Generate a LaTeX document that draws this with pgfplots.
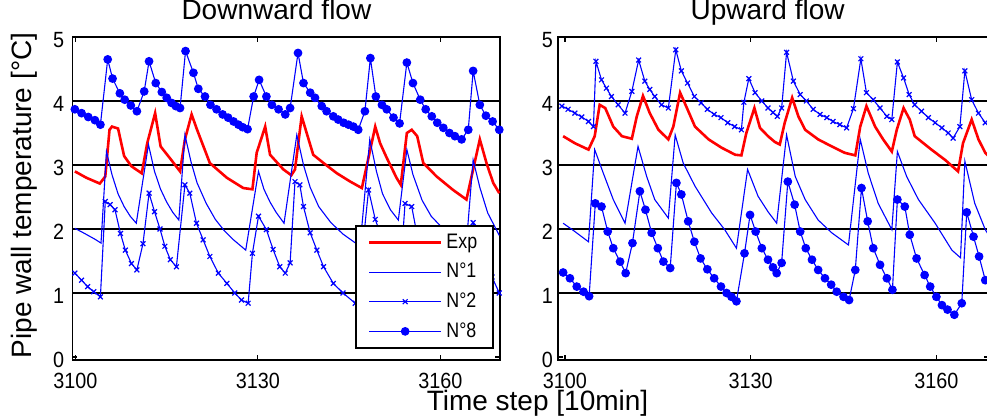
\documentclass[border=0pt]{standalone}
\usepackage{fontspec}
\setmainfont{Liberation Sans}
\newfontfamily\tickfont[FakeStretch=0.9]{Liberation Sans}
\newfontfamily\legfont[FakeStretch=0.85]{Liberation Sans}
\usepackage{pgfplots}
\usepackage{pgfplotstable}
\pgfplotsset{compat=1.18}

% ---------- Downward flow ----------
\pgfplotstableread{
t v
3099.9 2.90
3101.8 2.80
3104.0 2.71
3104.9 2.82
3105.6 3.55
3106.0 3.60
3107.0 3.57
3108.0 3.14
3109.2 2.98
3110.9 2.87
3111.8 3.34
3113.1 3.81
3114.0 3.29
3115.5 3.11
3117.2 2.90
3118.0 3.40
3119.1 3.79
3120.0 3.55
3122.1 3.03
3124.9 2.80
3127.6 2.64
3129.1 2.62
3129.8 3.19
3131.2 3.60
3132.0 3.16
3134.2 2.93
3135.5 2.84
3136.1 2.93
3137.2 3.76
3139.1 3.16
3140.8 3.03
3143.0 2.87
3145.2 2.74
3147.1 2.64
3148.0 3.03
3149.3 3.60
3150.1 3.34
3151.2 3.11
3152.8 2.80
3153.5 2.69
3154.5 3.50
3155.3 3.55
3156.2 3.45
3157.2 3.03
3159.4 2.82
3162.1 2.61
3164.3 2.46
3165.4 2.93
3166.5 3.40
3167.6 3.03
3168.7 2.72
3169.7 2.56
}\downexp

\pgfplotstableread{
t v
3099.9 2.01
3101.5 1.93
3103.2 1.84
3104.2 1.78
3105.1 3.21
3106.0 2.85
3107.0 2.55
3108.0 2.35
3109.0 2.20
3110.0 2.09
3112.0 3.32
3113.0 2.90
3114.0 2.62
3115.0 2.42
3116.0 2.26
3117.0 2.14
3118.0 3.47
3119.0 3.05
3120.0 2.72
3121.5 2.40
3123.0 2.15
3124.5 1.97
3126.0 1.83
3128.0 1.67
3130.1 2.90
3131.0 2.62
3132.0 2.42
3133.0 2.26
3134.3 2.09
3136.4 3.47
3137.5 3.00
3138.6 2.65
3140.0 2.35
3142.0 2.10
3144.0 1.92
3146.8 1.73
3148.4 3.40
3149.5 2.90
3150.5 2.55
3151.8 2.30
3153.1 2.14
3154.5 3.24
3155.5 2.85
3157.0 2.45
3158.5 2.20
3160.5 2.00
3162.5 1.87
3164.3 1.78
3165.4 3.08
3166.5 2.65
3167.8 2.25
3169.7 1.90
}\downone

\pgfplotstableread{
t v
3099.9 1.31
3101.0 1.20
3102.0 1.10
3103.0 1.02
3104.1 0.94
3104.9 2.43
3105.7 2.38
3106.5 2.30
3107.4 1.93
3108.2 1.67
3109.2 1.46
3110.1 1.36
3111.1 1.77
3112.1 2.56
3113.0 2.27
3113.9 2.00
3114.7 1.73
3115.6 1.52
3116.6 1.41
3118.0 2.69
3118.8 2.56
3119.9 2.09
3121.0 1.83
3122.1 1.57
3123.5 1.31
3124.9 1.15
3126.2 1.00
3127.3 0.89
3128.4 0.84
3129.1 1.62
3130.1 2.20
3131.4 1.99
3132.5 1.68
3133.6 1.41
3134.5 1.31
3135.3 1.47
3136.1 2.74
3136.9 2.69
3137.5 2.35
3138.6 1.94
3139.7 1.67
3140.8 1.41
3142.4 1.15
3144.0 1.00
3146.0 0.84
3146.9 1.40
3148.2 2.61
3149.3 2.15
3150.1 1.94
3151.5 1.60
3152.5 1.40
3153.4 1.30
3154.2 2.40
3155.3 2.35
3156.2 1.90
3157.5 1.60
3159.0 1.35
3160.5 1.18
3162.0 1.05
3163.5 0.95
3164.6 0.90
3165.4 2.10
3166.4 1.85
3167.5 1.55
3168.5 1.25
3169.7 1.00
}\downtwo

\pgfplotstableread{
t v
3099.9 3.87
3101.0 3.81
3102.1 3.75
3103.2 3.70
3104.1 3.63
3105.3 4.65
3106.1 4.35
3107.3 4.12
3108.1 4.02
3109.1 3.93
3110.1 3.84
3111.3 4.15
3112.1 4.62
3113.2 4.28
3114.2 4.14
3115.0 4.05
3115.8 3.97
3116.5 3.92
3117.2 3.89
3118.1 4.78
3119.4 4.44
3120.2 4.19
3121.3 4.07
3122.2 3.94
3123.2 3.87
3124.2 3.79
3125.1 3.74
3126.0 3.68
3126.8 3.63
3127.5 3.59
3128.3 3.56
3129.3 4.07
3130.2 4.33
3131.4 4.07
3132.3 3.94
3133.4 3.87
3134.5 3.79
3135.3 3.89
3136.6 4.75
3137.5 4.28
3138.6 4.13
3139.4 4.05
3140.5 3.92
3141.3 3.84
3142.4 3.76
3143.2 3.71
3144.1 3.66
3144.9 3.63
3145.7 3.60
3146.5 3.55
3147.6 3.84
3148.5 4.67
3149.4 4.07
3150.4 3.94
3151.2 3.87
3152.3 3.74
3153.3 3.65
3154.5 4.60
3155.5 4.28
3156.7 4.02
3157.6 3.87
3158.6 3.76
3159.5 3.66
3160.5 3.58
3161.5 3.50
3162.4 3.45
3163.5 3.40
3164.6 3.55
3165.4 4.47
3166.5 3.94
3167.5 3.77
3168.6 3.68
3169.7 3.55
}\downeight

% ---------- Upward flow ----------
\pgfplotstableread{
t v
3099.7 3.45
3101.6 3.34
3103.8 3.24
3104.8 3.45
3105.6 3.94
3106.5 3.89
3107.8 3.60
3109.2 3.45
3110.8 3.41
3111.6 3.76
3112.6 4.08
3113.7 3.81
3115.1 3.55
3116.7 3.40
3117.5 3.60
3118.6 4.13
3119.7 3.89
3121.0 3.60
3123.2 3.40
3125.3 3.27
3127.5 3.16
3128.5 3.15
3129.3 3.50
3130.6 3.89
3131.5 3.58
3132.8 3.45
3133.9 3.36
3134.7 3.32
3135.5 3.66
3136.7 4.05
3137.7 3.76
3138.8 3.55
3140.9 3.40
3143.1 3.29
3145.2 3.19
3146.9 3.15
3147.7 3.60
3148.7 3.92
3150.1 3.60
3151.4 3.40
3152.8 3.21
3153.6 3.55
3154.7 3.89
3155.7 3.71
3156.5 3.45
3159.2 3.24
3161.4 3.08
3163.5 2.90
3164.3 3.34
3165.7 3.71
3166.8 3.40
3167.9 3.19
3168.6 3.12
}\upexp

\pgfplotstableread{
t v
3099.7 2.09
3101.6 1.96
3103.8 1.80
3104.8 3.24
3106.2 2.87
3107.8 2.46
3109.7 2.09
3111.8 3.29
3113.2 2.82
3114.5 2.46
3116.7 2.17
3117.8 3.47
3119.1 3.03
3121.0 2.67
3123.7 2.25
3125.8 1.99
3127.7 1.70
3129.5 2.93
3131.2 2.51
3132.8 2.27
3134.2 2.09
3135.8 3.47
3137.2 2.82
3138.8 2.46
3140.9 2.14
3143.1 1.94
3145.8 1.75
3147.7 3.40
3149.0 2.87
3150.6 2.40
3152.8 1.99
3153.7 3.21
3155.2 2.82
3157.1 2.46
3159.8 2.09
3162.5 1.67
3163.9 1.55
3164.6 3.06
3166.2 2.40
3167.9 1.99
3168.6 1.88
}\upone

\pgfplotstableread{
t v
3099.5 3.92
3100.5 3.87
3101.6 3.81
3102.7 3.75
3103.8 3.68
3104.6 3.60
3105.0 4.62
3105.9 4.33
3106.7 4.20
3107.5 4.07
3108.6 3.94
3109.7 3.81
3110.8 4.15
3111.9 4.64
3112.9 4.31
3113.7 4.18
3114.5 4.07
3115.6 3.94
3116.7 3.89
3117.9 4.80
3118.8 4.47
3119.8 4.28
3120.9 4.07
3122.0 3.97
3123.0 3.87
3124.1 3.79
3125.2 3.74
3126.3 3.66
3127.4 3.60
3128.5 3.55
3128.9 3.98
3129.7 4.35
3130.7 4.13
3131.8 4.00
3132.8 3.89
3133.6 3.82
3134.3 3.76
3135.0 3.89
3135.8 4.76
3136.9 4.31
3138.0 4.10
3139.0 4.00
3140.1 3.87
3141.2 3.79
3142.3 3.74
3143.3 3.68
3144.4 3.63
3145.5 3.58
3146.6 3.88
3147.8 4.66
3148.7 4.13
3149.8 4.02
3150.9 3.89
3152.0 3.76
3152.8 3.71
3153.7 4.61
3154.7 4.36
3155.6 4.10
3156.5 3.94
3157.6 3.84
3158.7 3.74
3159.8 3.66
3160.9 3.58
3161.9 3.50
3162.7 3.42
3163.8 3.60
3164.6 4.47
3165.7 4.02
3166.8 3.81
3167.9 3.66
}\uptwo

\pgfplotstableread{
t v
3099.7 1.32
3100.8 1.23
3101.9 1.10
3103.0 1.02
3103.9 0.95
3104.9 2.40
3105.9 2.35
3106.9 1.96
3107.8 1.70
3108.9 1.49
3109.8 1.31
3110.9 1.78
3112.1 2.59
3113.0 2.30
3114.0 1.94
3115.0 1.70
3115.9 1.49
3117.0 1.39
3118.0 2.72
3118.8 2.54
3119.9 2.12
3120.9 1.80
3121.9 1.54
3123.0 1.37
3124.1 1.23
3125.2 1.10
3126.1 1.00
3126.9 0.94
3127.7 0.87
3129.0 1.62
3129.9 2.22
3130.8 1.96
3131.8 1.70
3132.8 1.52
3133.6 1.40
3134.2 1.31
3135.0 1.47
3136.0 2.74
3137.1 2.38
3138.0 1.96
3138.9 1.70
3139.9 1.52
3140.9 1.36
3142.0 1.23
3143.0 1.13
3143.9 1.02
3145.0 0.94
3145.9 0.89
3146.9 1.36
3147.9 2.64
3148.9 2.12
3149.8 1.70
3150.9 1.44
3152.0 1.23
3152.9 1.05
3153.7 2.46
3154.9 2.35
3155.7 1.91
3156.8 1.54
3158.1 1.28
3159.0 1.10
3160.0 0.94
3160.9 0.81
3161.8 0.74
3162.9 0.66
3164.1 0.84
3164.9 2.26
3166.0 1.88
3166.9 1.57
3167.9 1.20
}\upeight

\pgfplotsset{
  panel/.style={
    scale only axis, height=161.5pt,
    ymin=-0.047, ymax=5,
    ytick={0,1,2,3,4,5},
    xtick={3100,3130,3160},
    extra y ticks={1,2,3,4},
    extra y tick labels={},
    extra y tick style={grid=major, major tick length=0pt},
    major grid style={black, line width=0.8pt},
    axis line style={black, line width=0.9pt},
    every tick/.style={black, line width=0.6pt},
    tick align=inside, major tick length=2.5pt,
    /pgf/number format/assume math mode=true,
    /pgf/number format/1000 sep={},
    tick label style={font=\fontsize{11}{13}\tickfont, inner sep=0pt},
    xticklabel style={anchor=north, yshift=-6.5pt},
    yticklabel style={anchor=east, yshift=-1.5pt},
    title style={font=\fontsize{14}{16}\selectfont, anchor=base, inner sep=0pt, yshift=2.5pt},
  },
  expc/.style={red, line width=1.3pt, mark=none},
  none/.style={blue, line width=0.55pt, mark=none},
  ntwo/.style={blue, line width=0.55pt, mark=x, mark size=1.7pt, mark options={line width=0.6pt}},
  neight/.style={blue, line width=0.55pt, mark=*, mark size=1.9pt, mark options={fill=blue, draw=blue}},
}

\begin{document}
\begin{tikzpicture}
\useasboundingbox (-36.25pt,-28pt) rectangle (457.25pt,180pt);

\begin{axis}[panel, at={(0pt,0pt)}, anchor=south west,
  width=213.75pt, xmin=3099.51, xmax=3169.82,
  yticklabel style={xshift=-4pt},
  title={Downward flow}, title style={at={(axis description cs:0.477,1)}},
  legend style={at={(axis description cs:0.986,0.034)}, anchor=south east,
    draw=black, line width=0.8pt, fill=white,
    font=\fontsize{10.5}{12}\legfont,
    inner xsep=6pt, inner ysep=2.4pt, row sep=2.8pt,
    nodes={inner ysep=1.6pt},
    /tikz/every even column/.append style={column sep=3pt}},
  legend cell align=left,
  legend image code/.code={\draw[mark repeat=2,mark phase=2,#1] plot coordinates {(0pt,0pt) (18pt,0pt) (36pt,0pt)};},
]
\addplot[expc] table[x=t,y=v] {\downexp};
\addplot[none] table[x=t,y=v] {\downone};
\addplot[ntwo] table[x=t,y=v] {\downtwo};
\addplot[neight] table[x=t,y=v] {\downeight};
\legend{Exp,N°1,N°2,N°8}
\end{axis}

\begin{axis}[panel, at={(242.9pt,0pt)}, anchor=south west,
  width=215.35pt, xmin=3098.92, xmax=3168.50,
  yticklabel style={xshift=-2.5pt},
  title={Upward flow}, title style={at={(axis description cs:0.486,1)}},
]
\addplot[expc] table[x=t,y=v] {\upexp};
\addplot[none] table[x=t,y=v] {\upone};
\addplot[ntwo] table[x=t,y=v] {\uptwo};
\addplot[neight] table[x=t,y=v] {\upeight};
\end{axis}

\node[font=\fontsize{14}{16}\selectfont, anchor=base] at (232.5pt,-25.5pt) {Time step [10min]};
\node[font=\fontsize{14}{16}\selectfont, rotate=90, anchor=base] at (-20.25pt,82.25pt) {Pipe wall temperature [°C]};
\end{tikzpicture}
\end{document}
